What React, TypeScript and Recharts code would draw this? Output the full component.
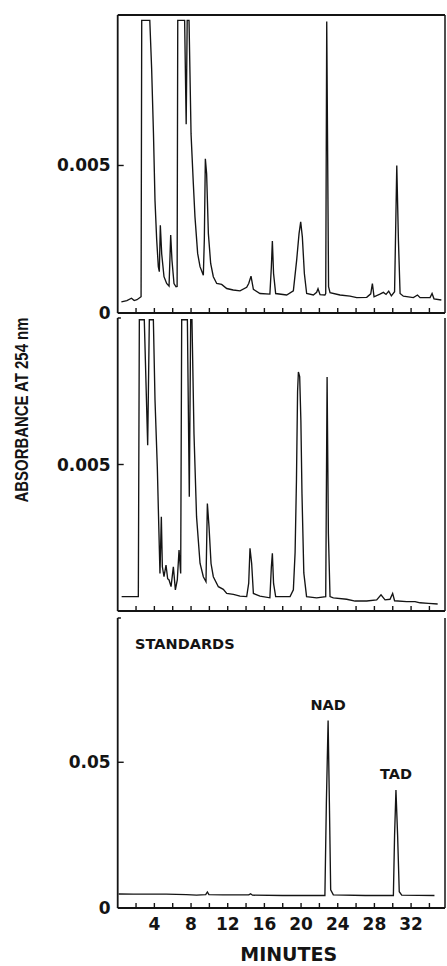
import { LineChart, Line, XAxis, YAxis, ReferenceLine, ReferenceDot } from "recharts";

// retention time axis (minutes)
const minuteTicks = [2, 4, 6, 8, 10, 12, 14, 16, 18, 20, 22, 24, 26, 28, 30, 32, 34];
const minuteLabels = [4, 8, 12, 16, 20, 24, 28, 32];
const timeDomain = [0, 35.7];

// top trace, absorbance in units of 0.001 AU
const topTime = [
  0.4, 1.0, 1.5, 1.8, 2.1, 2.55, 2.62, 3.5, 3.7, 3.9, 4.07, 4.25, 4.43, 4.54, 4.65, 4.8, 5.05, 5.34,
  5.6, 5.78, 5.92, 6.14, 6.36, 6.48, 6.55, 7.3, 7.47, 7.58, 7.78, 8.0, 8.25, 8.43, 8.72, 8.98, 9.34,
  9.45, 9.56, 9.7, 9.89, 10.14, 10.43, 10.8, 11.34, 11.89, 12.6, 13.34, 14.07, 14.29, 14.54, 14.8,
  15.52, 16.6, 16.76, 16.87, 17.0, 17.23, 18.43, 19.16, 19.52, 19.78, 19.96, 20.14, 20.36, 20.61,
  21.34, 21.7, 21.85, 22.07, 22.6, 22.69, 22.8, 23.0, 23.16, 24.25, 25.34, 26.07, 27.16, 27.6, 27.78,
  27.96, 28.6, 28.98, 29.27, 29.56, 29.85, 30.2, 30.44, 30.62, 30.8, 31.16, 32.25, 32.7, 32.98,
  34.07, 34.29, 34.5, 35.3,
];
const topAbs = [
  0.38, 0.42, 0.5, 0.42, 0.45, 0.55, 9.92, 9.92, 8.3, 6.1, 3.8, 2.5, 1.57, 1.4, 2.97, 2.0, 1.23, 1.0,
  0.91, 2.64, 1.79, 1.0, 0.89, 0.9, 9.92, 9.92, 6.4, 9.92, 9.92, 6.07, 4.38, 3.25, 2.02, 1.57, 1.28,
  2.5, 5.23, 4.72, 2.69, 1.68, 1.23, 1.0, 0.97, 0.83, 0.78, 0.75, 0.87, 1.0, 1.25, 0.8,
  0.66, 0.64, 1.56, 2.44, 1.34, 0.66, 0.61, 0.75, 1.79, 2.69, 3.09, 2.58, 1.34, 0.66,
  0.61, 0.7, 0.82, 0.62, 0.61, 0.66, 9.88, 0.89, 0.69, 0.61, 0.57, 0.52, 0.53, 0.65, 1.0,
  0.55, 0.64, 0.7, 0.63, 0.74, 0.58, 0.72, 5.0, 2.47, 0.66, 0.57, 0.52, 0.61, 0.52,
  0.52, 0.66, 0.48, 0.44,
];

// middle trace, absorbance in units of 0.001 AU
const midTime = [
  0.43, 2.25, 2.36, 2.9, 3.27, 3.45, 3.89, 4.07, 4.32, 4.5, 4.61, 4.76, 4.87, 5.05, 5.27, 5.45, 5.6,
  5.82, 6.07, 6.29, 6.5, 6.69, 6.87, 6.98, 7.6, 7.81, 7.96, 8.1, 8.32, 8.6, 8.98, 9.34, 9.63, 9.78,
  9.96, 10.18, 10.43, 10.98, 11.52, 11.89, 12.62, 13.34, 14.07, 14.29, 14.43, 14.61, 14.8, 15.52,
  16.6, 16.76, 16.87, 17.0, 17.23, 18.8, 19.16, 19.35, 19.5, 19.62, 19.71, 19.85, 19.98, 20.1, 20.3,
  20.6, 21.7, 22.69, 22.84, 22.98, 23.16, 23.52, 24.98, 25.89, 27.16, 28.25, 28.72, 29.16, 29.7,
  29.99, 30.2, 31.52, 32.43, 32.98, 33.89, 34.9,
];
const midAbs = [
  0.49, 0.49, 9.94, 9.94, 5.66, 9.94, 9.94, 7.19, 4.92, 2.65, 1.28, 3.22, 1.51, 1.17, 1.57, 1.1, 1.06,
  0.83, 1.51, 0.72, 1.06, 2.08, 1.28, 9.94, 9.94, 3.9, 9.94, 9.94, 6.06, 3.22, 1.63, 1.17, 1.0, 3.67,
  2.88, 1.62, 1.17, 0.83, 0.74, 0.6, 0.57, 0.51, 0.49, 0.95, 2.14, 1.63, 0.6, 0.51,
  0.45, 1.5, 1.97, 0.94, 0.49, 0.49, 0.72, 2.0, 4.5, 7.5, 8.16, 8.0, 6.5, 4.0, 1.3,
  0.49, 0.45, 0.49, 7.99, 2.65, 0.49, 0.45, 0.4, 0.34, 0.34, 0.38, 0.55, 0.38, 0.4,
  0.6, 0.35, 0.32, 0.32, 0.28, 0.26, 0.24,
];

// standards trace, absorbance in units of 0.001 AU
const stdTime = [
  0.1, 1.7, 5.3, 7.5, 8.6, 9.6, 9.78, 9.95, 11.5, 14.3, 14.5, 14.7, 18.0, 22.6, 22.76, 22.95, 23.09,
  23.23, 23.52, 27.0, 30.07, 30.2, 30.35, 30.53, 30.71, 30.98, 34.55,
];
const stdAbs = [
  4.8, 4.75, 4.75, 4.6, 4.4, 4.6, 5.5, 4.6, 4.5, 4.5, 4.9, 4.4, 4.3, 4.3, 36, 64.3, 36,
  6.2, 4.5, 4.3, 4.3, 25, 40.5, 25, 5.6, 4.4, 4.3,
];

const peakNames = ["NAD", "TAD"];
const peakTimes = [22.95, 30.35];
const peakAbs = [64.3, 40.5];

const rows = (time: number[], abs: number[]) => time.map((t, i) => ({ t, abs: abs[i] / 1000 }));

const INK = "#141414";
const NUM_FONT = "'DejaVu Sans', sans-serif";

function MinuteTick(props: any) {
  const { x, y, payload, showLabel } = props;
  const v = payload.value;
  return (
    <g>
      <line x1={x} x2={x} y1={y} y2={y - 5} stroke={INK} strokeWidth={1.4} />
      {showLabel && minuteLabels.includes(v) && (
        <text x={x} y={y + 22} textAnchor="middle" fontFamily={NUM_FONT} fontWeight="bold" fontSize={17} fill={INK}>
          {v}
        </text>
      )}
    </g>
  );
}

function AbsTick(props: any) {
  const { x, y, payload } = props;
  const v = payload.value;
  return (
    <g>
      {v !== 0 && <line x1={x} x2={x + 6} y1={y} y2={y} stroke={INK} strokeWidth={1.4} />}
      <text x={x - 7} y={y} dy={6} textAnchor="end" fontFamily={NUM_FONT} fontWeight="bold" fontSize={17} fill={INK}>
        {v === 0 ? "0" : String(v)}
      </text>
    </g>
  );
}

function Panel({
  data,
  top,
  height,
  marginTop,
  axisHeight,
  yMax,
  yTicks,
  frameTop,
  showLabels,
  children,
  yLabel,
  xLabel,
}: any) {
  return (
    <div style={{ position: "absolute", left: 0, top }}>
      <LineChart width={447} height={height} data={data} margin={{ top: marginTop, right: 2, bottom: 0, left: 0 }}>
        <XAxis
          dataKey="t"
          type="number"
          domain={timeDomain}
          ticks={minuteTicks}
          interval={0}
          height={axisHeight}
          tickSize={0}
          tickMargin={0}
          tickLine={false}
          axisLine={{ stroke: INK, strokeWidth: 1.8 }}
          tick={(p: any) => <MinuteTick {...p} showLabel={showLabels} />}
          label={xLabel}
        />
        <YAxis
          type="number"
          domain={[0, yMax]}
          ticks={yTicks}
          interval={0}
          width={117.7}
          tickSize={0}
          tickMargin={0}
          tickLine={false}
          axisLine={{ stroke: INK, strokeWidth: 1.8 }}
          tick={(p: any) => <AbsTick {...p} />}
          label={yLabel}
        />
        <ReferenceLine x={timeDomain[1]} stroke={INK} strokeWidth={1.5} ifOverflow="extendDomain" />
        {frameTop ? (
          <ReferenceLine y={yMax} stroke={INK} strokeWidth={1.8} />
        ) : (
          <ReferenceLine segment={[{ x: 0, y: yMax }, { x: 0.35, y: yMax }]} stroke={INK} strokeWidth={1.5} />
        )}
        <Line dataKey="abs" type="linear" stroke={INK} strokeWidth={1.35} dot={false} isAnimationActive={false} />
        {children}
      </LineChart>
    </div>
  );
}

const yTitle = (props: any) => {
  const vb = props.viewBox || { x: 0, y: 5 };
  const cx = vb.x + 21.5;
  const cy = vb.y + 92;
  return (
    <g transform={`translate(${cx} ${cy}) rotate(-90) scale(0.83 1)`}>
      <text
        x={0}
        y={0}
        textAnchor="middle"
        dy={6.5}
        fontFamily="'Liberation Sans', Arial, sans-serif"
        fontWeight="bold"
        fontSize={18}
        fill={INK}
      >
        ABSORBANCE AT 254 nm
      </text>
    </g>
  );
};

const xTitle = (props: any) => {
  const vb = props.viewBox || { x: 117.7, y: 297 };
  return (
    <text
      x={vb.x + 171}
      y={vb.y + 53}
      textAnchor="middle"
      fontFamily={NUM_FONT}
      fontWeight="bold"
      fontSize={19}
      fill={INK}
    >
      MINUTES
    </text>
  );
};

export default function App() {
  return (
    <div style={{ position: "absolute", left: 0, top: 0, width: 447, height: 966, background: "#fff" }}>
      <Panel data={rows(topTime, topAbs)} top={0} height={328} marginTop={15} axisHeight={15} yMax={0.0101} yTicks={[0, 0.005]} frameTop />
      <Panel
        data={rows(midTime, midAbs)}
        top={313}
        height={303}
        marginTop={5}
        axisHeight={5}
        yMax={0.01}
        yTicks={[0.005]}
        yLabel={{ content: yTitle }}
      />
      <Panel
        data={rows(stdTime, stdAbs)}
        top={611}
        height={355}
        marginTop={7}
        axisHeight={58}
        yMax={0.0995}
        yTicks={[0, 0.05]}
        showLabels
        xLabel={{ content: xTitle }}
      >
        <ReferenceDot
          x={1.9}
          y={0.0908}
          r={0}
          label={{ value: "STANDARDS", position: "right", offset: 0, fontFamily: NUM_FONT, fontWeight: "bold", fontSize: 14.5, fill: INK }}
        />
        {peakNames.map((name, i) => (
          <ReferenceDot
            key={name}
            x={peakTimes[i]}
            y={peakAbs[i] / 1000}
            r={0}
            label={{ value: name, position: "top", offset: 11, fontFamily: NUM_FONT, fontWeight: "bold", fontSize: 14.5, fill: INK }}
          />
        ))}
      </Panel>
    </div>
  );
}
